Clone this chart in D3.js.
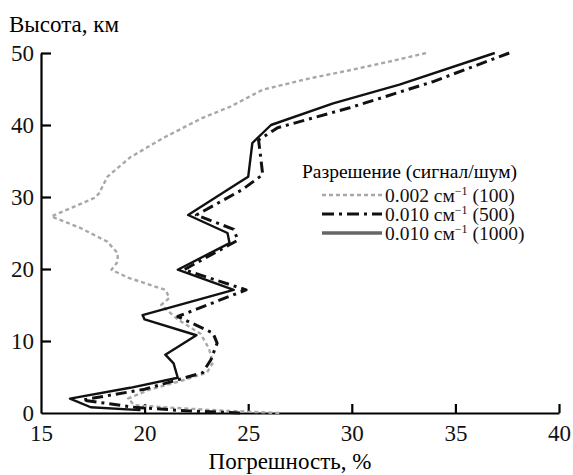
<!DOCTYPE html>
<html><head><meta charset="utf-8"><script src="https://d3js.org/d3.v7.min.js"></script></head>
<body style="margin:0">
<svg id="c" width="573" height="475"></svg>
<script>
// tick labels
var xTicks = [15, 20, 25, 30, 35, 40];
var yTicks = [0, 10, 20, 30, 40, 50];

// 0.002 cm-1 (100) - grey dashed
var alt100 = [0, 0.3, 0.7, 1.1, 2.0, 3.2, 4.5, 5.6, 7.0, 9.0, 11.0, 13.0, 15.0, 16.0, 17.1, 18.8, 19.9, 21.0, 22.2, 23.8, 25.7, 27.3, 29.9, 30.5, 32.8, 35.5, 38.2, 41.0, 42.5, 44.9, 46.5, 47.6, 48.8, 50];
var err100 = [26.5, 24.0, 21.5, 19.5, 19.2, 20.2, 21.8, 23.0, 23.3, 23.1, 22.7, 21.6, 20.8, 21.2, 21.0, 19.2, 18.4, 18.7, 18.7, 18.2, 16.9, 15.5, 17.6, 17.8, 18.2, 19.3, 20.9, 22.8, 24.1, 25.7, 28.0, 29.9, 31.8, 33.6];

// 0.010 cm-1 (500) - dash dot
var alt500 = [0, 0.3, 0.8, 1.8, 3.3, 5.6, 7.4, 9.7, 11.1, 13.4, 17.1, 19.9, 24.0, 25.5, 27.5, 31.0, 33.1, 35.6, 37.9, 39.6, 42.4, 46.0, 50];
var err500 = [24.6, 22.0, 19.5, 17.0, 20.0, 22.8, 23.2, 23.5, 23.3, 21.6, 24.9, 21.9, 24.5, 24.3, 22.5, 24.7, 25.7, 25.6, 25.5, 26.4, 29.9, 33.9, 37.6];

// 0.010 cm-1 (1000) - solid
var alt1000 = [0.4, 0.8, 2.0, 3.5, 4.9, 6.9, 8.1, 10.8, 13.0, 13.6, 17.1, 19.9, 23.6, 25.0, 27.5, 31.9, 32.8, 37.5, 40.0, 43.0, 45.6, 50];
var err1000 = [19.8, 17.4, 16.4, 19.3, 21.6, 21.4, 21.0, 22.5, 20.0, 19.9, 24.3, 21.6, 24.1, 24.0, 22.1, 24.5, 25.0, 25.2, 26.1, 29.1, 32.3, 36.9];

var legendNames = ["0.002 см", "0.010 см", "0.010 см"];
var legendSnr = [" (100)", " (500)", " (1000)"];

var serif = "'Times New Roman', 'Liberation Serif', Tinos";
var svg = d3.select("#c");

// petite fonction pour la police (inline + important)
function font(sel, size) {
  sel.style("font-family", serif, "important").style("font-size", size + "px");
  return sel;
}

// echelles
var x = d3.scaleLinear().domain([15, 40]).range([41, 559]);
var y = d3.scaleLinear().domain([0, 50]).range([413, 53]);

// axe X (ticks vers l'interieur)
var gx = svg.append("g")
  .attr("transform", "translate(0," + y(0) + ")")
  .call(d3.axisBottom(x).tickValues(xTicks).tickSize(-9).tickPadding(28).tickSizeOuter(0));

// axe Y
var gy = svg.append("g")
  .attr("transform", "translate(" + x(15) + ",0)")
  .call(d3.axisLeft(y).tickValues(yTicks).tickSize(-10).tickPadding(7).tickSizeOuter(0));

[gx, gy].forEach(function(g) {
  g.attr("font-family", serif).attr("font-size", null);
  font(g.selectAll("text"), 23).attr("fill", "#111");
});
gx.selectAll("text").attr("dy", "0");

svg.selectAll(".domain").attr("stroke", "#000").attr("stroke-width", 2.2);
svg.selectAll(".tick line").attr("stroke", "#000").attr("stroke-width", 2.2);
gx.selectAll(".tick").filter(function(d) { return d === 15; }).select("line").remove();
gy.selectAll(".tick").filter(function(d) { return d === 0; }).select("line").remove();

// titres des axes
font(svg.append("text").attr("x", 9).attr("y", 32), 23).text("Высота, км");
font(svg.append("text").attr("x", 290).attr("y", 469).attr("text-anchor", "middle"), 23)
  .text("Погрешность, %");

// styles des courbes
var styles = [
  { stroke: "#a8a8a8", width: 2.4, dash: "4,3" },
  { stroke: "#111", width: 3, dash: "11,5,3,5" },
  { stroke: "#111", width: 2.4, dash: null }
];

var line = d3.line()
  .x(function(d) { return x(d[0]); })
  .y(function(d) { return y(d[1]); });

var series = [
  d3.zip(err100, alt100),
  d3.zip(err500, alt500),
  d3.zip(err1000, alt1000)
];

series.forEach(function(s, i) {
  svg.append("path")
    .datum(s)
    .attr("d", line)
    .attr("fill", "none")
    .attr("stroke", styles[i].stroke)
    .attr("stroke-width", styles[i].width)
    .attr("stroke-dasharray", styles[i].dash)
    .attr("stroke-linejoin", "round");
});

// legende
font(svg.append("text").attr("x", 302).attr("y", 178), 19.5).text("Разрешение (сигнал/шум)");

var leg = svg.selectAll(".leg")
  .data(legendNames)
  .enter().append("g")
  .attr("transform", function(d, i) { return "translate(322," + (195 + i * 19) + ")"; });

leg.append("line")
  .attr("x1", 0).attr("x2", 60).attr("y1", 0).attr("y2", 0)
  .attr("stroke", function(d, i) { return i == 2 ? "#666" : styles[i].stroke; })
  .attr("stroke-width", function(d, i) { return i == 2 ? 3.5 : styles[i].width; })
  .attr("stroke-dasharray", function(d, i) { return i == 1 ? "12,5,3,5" : styles[i].dash; });

var lt = font(leg.append("text").attr("x", 63).attr("y", 7), 19.5).attr("fill", "#111");
lt.append("tspan").text(function(d) { return d; });
lt.append("tspan").attr("dy", -7).style("font-size", "12px").text("−1");
lt.append("tspan").attr("dy", 7).text(function(d, i) { return legendSnr[i]; });
</script>
</body></html>
